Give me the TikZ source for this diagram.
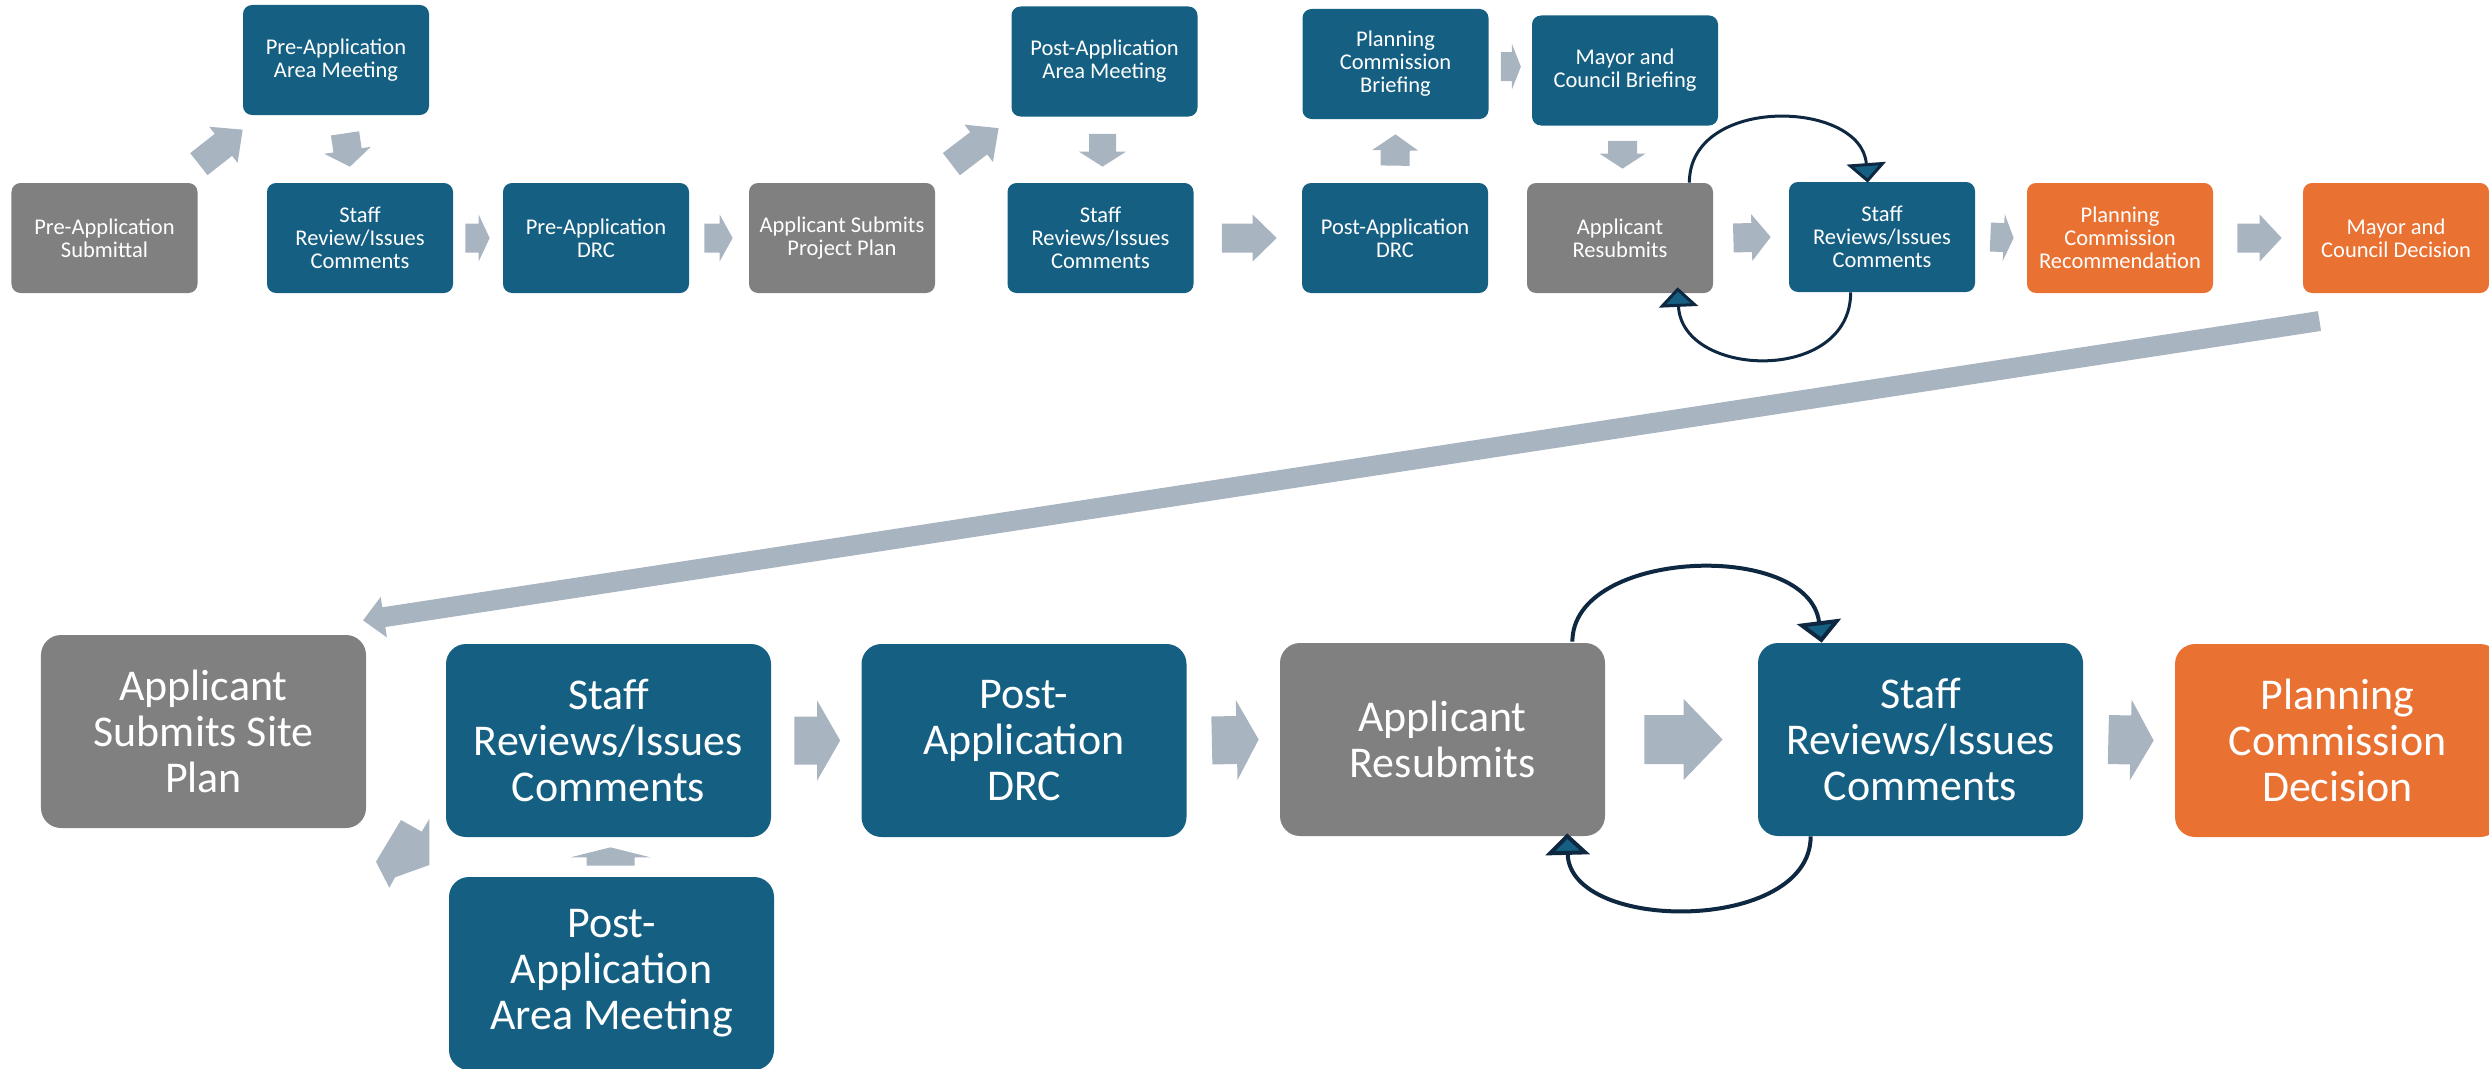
\documentclass[tikz,border=0pt]{standalone}
\usepackage{fontspec}
\setmainfont{Carlito}
\usetikzlibrary{calc,arrows.meta}

\definecolor{boxblue}{HTML}{156082}
\definecolor{boxgrey}{HTML}{808080}
\definecolor{boxorange}{HTML}{E97132}
\definecolor{flowgrey}{HTML}{A9B4C1}
\definecolor{loopline}{HTML}{0E2841}

% Block arrow: [style]{tail}{tip}{shaft width}{head width}{head length}, sizes in px (0.2mm)
\newcommand\blockarrow[6][]{%
  \fill[flowarrow,#1] let \p1=#2, \p2=#3, \n1={atan2(\y2-\y1,\x2-\x1)} in
    ($(\p1)+(\n1+90:#4*0.1mm)$) --
    ($(\p2)+(\n1+180:#6*0.2mm)+(\n1+90:#4*0.1mm)$) --
    ($(\p2)+(\n1+180:#6*0.2mm)+(\n1+90:#5*0.1mm)$) --
    (\p2) --
    ($(\p2)+(\n1+180:#6*0.2mm)+(\n1-90:#5*0.1mm)$) --
    ($(\p2)+(\n1+180:#6*0.2mm)+(\n1-90:#4*0.1mm)$) --
    ($(\p1)+(\n1-90:#4*0.1mm)$) -- cycle;
}

\begin{document}
\begin{tikzpicture}[x=0.2mm,y=-0.2mm,
  stage/.style={rounded corners=1.8mm, minimum width=37.2mm, minimum height=22mm,
    inner sep=0pt, align=center, text=white, font=\fontsize{12.8}{13.1}\selectfont},
  bigstage/.style={rounded corners=4mm, minimum width=65mm, minimum height=38.6mm,
    inner sep=0pt, align=center, text=white, font=\fontsize{25}{26.2}\selectfont},
  staff/.style={fill=boxblue},
  applicant/.style={fill=boxgrey},
  council/.style={fill=boxorange},
  flowarrow/.style={fill=flowgrey},
  loop/.style={draw=loopline, line width=0.6mm,
    -{Triangle[width=7.8mm,length=3.9mm,fill=boxblue]}},
  bigloop/.style={draw=loopline, line width=0.8mm,
    -{Triangle[width=8.8mm,length=4.3mm,fill=boxblue]}},
]
\useasboundingbox (0,0) rectangle (2489,1068);
\clip (0,0) rectangle (2489,1068);

% ---------- upper process ----------
\node[stage,applicant] (pas)   at (104.5,238) {Pre-Application\\Submittal};
\node[stage,staff]     (paam)  at (336,60)    {Pre-Application\\Area Meeting};
\node[stage,staff]     (sr1)   at (360,238)   {Staff\\Review/Issues\\Comments};
\node[stage,staff]     (padrc) at (596,238)   {Pre-Application\\DRC};
\node[stage,applicant] (aspp)  at (842,238)   {Applicant Submits\\Project Plan};
\node[stage,staff]     (poaam) at (1104.5,61.5) {Post-Application\\Area Meeting};
\node[stage,staff]     (sr2)   at (1100.5,238) {Staff\\Reviews/Issues\\Comments};
\node[stage,staff]     (podrc) at (1395,238)  {Post-Application\\DRC};
\node[stage,staff]     (pcb)   at (1395.5,64) {Planning\\Commission\\Briefing};
\node[stage,staff]     (mcb)   at (1625,70.5) {Mayor and\\Council Briefing};
\node[stage,applicant] (ar)    at (1620,238)  {Applicant\\Resubmits};
\node[stage,staff]     (sr3)   at (1882,237)  {Staff\\Reviews/Issues\\Comments};
\node[stage,council]   (pcr)   at (2120,238)  {Planning\\Commission\\Recommendation};
\node[stage,council]   (mcd)   at (2396,238)  {Mayor and\\Council Decision};

\blockarrow{($(pas.north east)+(1,-18.5)$)}{($(paam.south west)+(0,14.3)$)}{28}{46}{24.5}
\blockarrow{($(paam.south)+(9,18)$)}{($(sr1.north)+(-10,-16)$)}{28.5}{47}{16.5}
\blockarrow{($(sr1.east)+(12,0)$)}{($(padrc.west)+(-13,0)$)}{29}{47}{11}
\blockarrow{($(padrc.east)+(15,0)$)}{($(aspp.west)+(-16,0)$)}{29}{47}{13}
\blockarrow{($(aspp.north east)+(16,-18.5)$)}{($(poaam.south west)+(-12.6,11.3)$)}{28}{47}{25}
\blockarrow{($(poaam.south)+(-2,17)$)}{($(sr2.north)+(2,-16)$)}{27}{47}{15}
\blockarrow{($(sr2.east)+(28,0)$)}{($(podrc.west)+(-25,0)$)}{29}{47}{24}
\blockarrow{($(podrc.north)+(0,-17)$)}{($(pcb.south)+(0,15)$)}{29}{46}{16}
\blockarrow{($(pcb.east)+(12,2.7)$)}{($(pcb.east)+(32,2.7)$)}{29}{46}{9}
\blockarrow{($(mcb.south)+(-2.5,15)$)}{($(ar.north)+(2.5,-14)$)}{29}{46}{15}
\blockarrow{($(ar.east)+(20,0)$)}{($(sr3.west)+(-18,0)$)}{29}{47}{19}
\blockarrow{($(sr3.east)+(15,0)$)}{($(pcr.west)+(-13,0)$)}{29}{47}{10}
\blockarrow{($(pcr.east)+(24,0)$)}{($(mcd.west)+(-21,0)$)}{29}{47}{22}

% resubmittal loop
\draw[loop] ($(ar.north east)+(-24,0)$) .. controls +(0,-88) and +(-6,-83) .. ($(sr3.north west)+(79,1)$);
\draw[loop] ($(sr3.south west)+(62,0)$) .. controls +(0,92) and +(4,91) .. ($(ar.south west)+(151,-6)$);

% ---------- lower process ----------
\node[bigstage,applicant] (assp)   at (203.5,731.5)  {Applicant\\Submits Site\\Plan};
\node[bigstage,staff]     (sr4)    at (608.5,740.5)  {Staff\\Reviews/Issues\\Comments};
\node[bigstage,staff]     (poaam2) at (611.5,973.5)  {Post-\\Application\\Area Meeting};
\node[bigstage,staff]     (podrc2) at (1024,740.5)   {Post-\\Application\\DRC};
\node[bigstage,applicant] (ar2)    at (1442.5,739.5) {Applicant\\Resubmits};
\node[bigstage,staff]     (sr5)    at (1920.5,739.5) {Staff\\Reviews/Issues\\Comments};
\node[bigstage,council]   (pcd)    at (2337.5,740.5) {Planning\\Commission\\Decision};

% link from the upper process down to the lower one
\blockarrow{($(mcd.south)+(-76.5,27.7)$)}{($(assp.north east)+(-3.3,-14.3)$)}{20}{41}{21}

\fill[flowarrow] (401,820) -- (421.7,831.7) -- (429.3,819) -- (429.3,865)
  -- (395,877.3) -- (389.3,887.7) -- (376,861.7) -- cycle;
\blockarrow{($(poaam2.north)+(-1,-11)$)}{($(sr4.south)+(2,10)$)}{48}{80}{10}
\blockarrow{($(sr4.east)+(23,0)$)}{($(podrc2.west)+(-21,0)$)}{48}{80}{23}
\blockarrow{($(podrc2.east)+(25,0)$)}{($(ar2.west)+(-21,0)$)}{48}{80}{22}
\blockarrow{($(ar2.east)+(39,0)$)}{($(sr5.west)+(-35,0)$)}{49}{81}{39}
\blockarrow{($(sr5.east)+(25,0)$)}{($(pcd.west)+(-21,0)$)}{49}{81}{23}

\draw[bigloop] ($(ar2.north east)+(-33,-1)$) .. controls +(0,-93) and +(-13,-103) .. ($(sr5.north west)+(64,0)$);
\draw[bigloop] ($(sr5.south west)+(53,0)$) .. controls +(0,97) and +(2.5,100) .. ($(ar2.south west)+(287.5,-3)$);
\end{tikzpicture}
\end{document}
